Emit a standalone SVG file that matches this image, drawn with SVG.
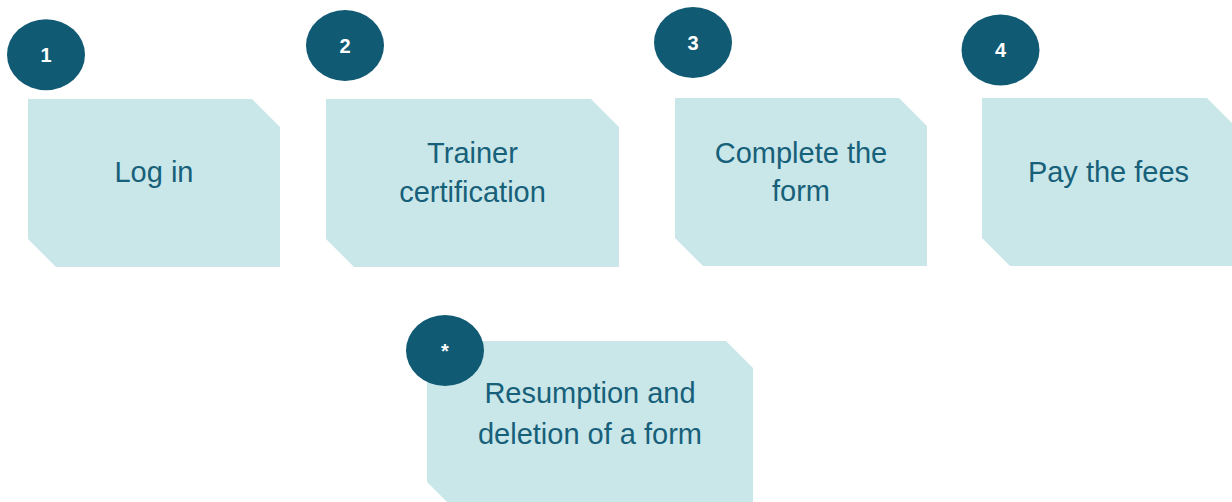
<svg xmlns="http://www.w3.org/2000/svg" width="1232" height="502" viewBox="0 0 1232 502">
  <style>
    .box { fill: #c9e7e9; }
    .badge { fill: #115a74; }
    .lbl { font-family: "Liberation Sans", Arial, sans-serif; font-size: 29px; fill: #17607a; text-anchor: middle; }
    .num { font-family: "Liberation Sans", Arial, sans-serif; font-size: 20px; font-weight: bold; fill: #ffffff; text-anchor: middle; }
  </style>
  <rect width="1232" height="502" fill="#ffffff"/>
  <g id="connectors"></g>
  <g id="node1">
    <polygon class="box" points="28,99 252,99 280,127 280,267 56,267 28,239"/>
    <text class="lbl" x="154" y="182">Log in</text>
    <ellipse class="badge" cx="46" cy="54.7" rx="39" ry="35.5"/>
    <text class="num" x="46" y="62">1</text>
  </g>
  <g id="node2">
    <polygon class="box" points="326,99 591,99 619,127 619,267 354,267 326,239"/>
    <text class="lbl" x="472.5" y="163">Trainer</text>
    <text class="lbl" x="472.5" y="202">certification</text>
    <ellipse class="badge" cx="345" cy="45.5" rx="39" ry="35.5"/>
    <text class="num" x="345" y="52.7">2</text>
  </g>
  <g id="node3">
    <polygon class="box" points="675,98 899,98 927,126 927,266 703,266 675,238"/>
    <text class="lbl" x="801" y="162.7">Complete the</text>
    <text class="lbl" x="801" y="201">form</text>
    <ellipse class="badge" cx="693" cy="42.5" rx="39" ry="35.5"/>
    <text class="num" x="693" y="49.7">3</text>
  </g>
  <g id="node4">
    <polygon class="box" points="982,98 1207,98 1235,126 1235,266 1010,266 982,238"/>
    <text class="lbl" x="1108.5" y="182.3">Pay the fees</text>
    <ellipse class="badge" cx="1000.5" cy="50" rx="39" ry="35.5"/>
    <text class="num" x="1000.5" y="57.3">4</text>
  </g>
  <g id="node5">
    <polygon class="box" points="427,341 726,341 753,368 753,510 455,510 427,482"/>
    <text class="lbl" x="590" y="403.3">Resumption and</text>
    <text class="lbl" x="590" y="444">deletion of a form</text>
    <ellipse class="badge" cx="445" cy="350.5" rx="39" ry="35.5"/>
    <text class="num" x="445" y="357.5">*</text>
  </g>
</svg>
